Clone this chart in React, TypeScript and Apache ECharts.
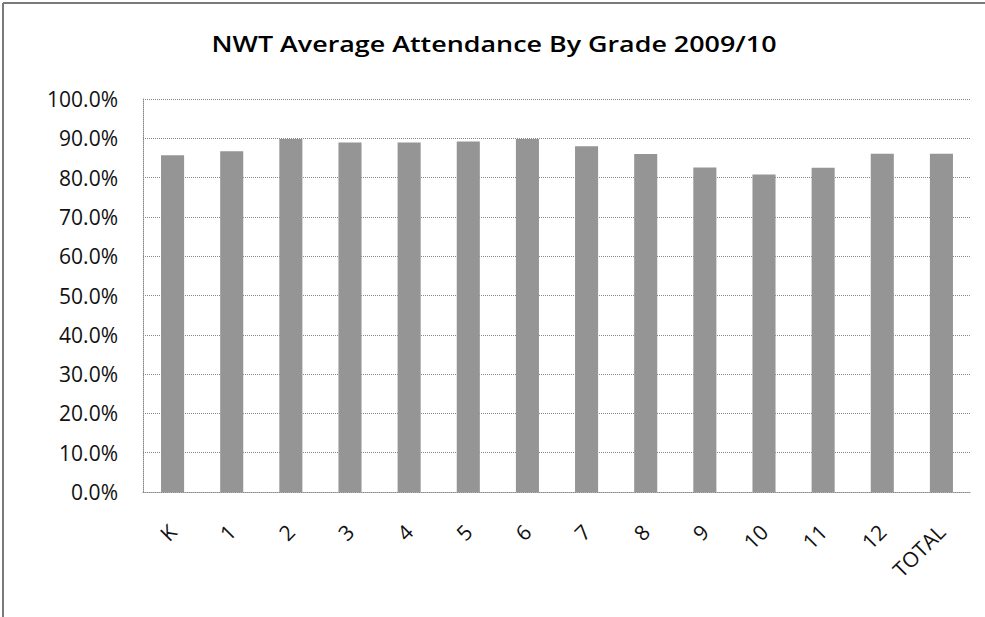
import React, { useEffect, useRef } from "react";
import * as echarts from "echarts";

const categories = ["K", "1", "2", "3", "4", "5", "6", "7", "8", "9", "10", "11", "12", "TOTAL"];
const attendance = [85.7, 86.7, 89.8, 88.9, 88.9, 89.2, 89.8, 88.0, 86.0, 82.6, 80.8, 82.5, 86.1, 86.1];
const chartTitle = "NWT Average Attendance By Grade 2009/10";

export default function App() {
  const ref = useRef<HTMLDivElement>(null);
  useEffect(() => {
    if (!ref.current) return;
    const chart = echarts.init(ref.current, null, { renderer: "svg" });
    chart.setOption({
      animation: false,
      backgroundColor: "#ffffff",
      graphic: [
        { type: "line", shape: { x1: 3, y1: 3, x2: 985, y2: 3 }, style: { stroke: "#7a7a7a", lineWidth: 2 } },
        { type: "line", shape: { x1: 3, y1: 3, x2: 3, y2: 617 }, style: { stroke: "#7a7a7a", lineWidth: 2 } },
        {
          type: "text",
          x: 494,
          y: 44,
          scaleX: 1.28,
          style: {
            text: chartTitle,
            x: 0,
            y: 0,
            textAlign: "center",
            textVerticalAlign: "middle",
            fontFamily: "Open Sans",
            fontSize: 21,
            fontWeight: 600,
            fill: "#000",
          },
        },
      ],
      grid: { left: 143, right: 14, top: 99, bottom: 125, containLabel: false },
      xAxis: {
        type: "category",
        data: categories,
        axisLine: { show: true, lineStyle: { color: "#888", type: "dotted" } },
        axisTick: { show: false },
        axisLabel: {
          rotate: 45,
          margin: 36,
          fontFamily: "Open Sans",
          fontSize: 21,
          color: "#111",
        },
      },
      yAxis: {
        type: "value",
        min: 0,
        max: 100,
        interval: 10,
        axisLine: { show: true, lineStyle: { color: "#888", type: "dotted" } },
        axisTick: { show: false },
        splitLine: { show: true, lineStyle: { color: "#888", type: "dotted" } },
        axisLabel: {
          formatter: (v: number) => v.toFixed(1) + "%",
          margin: 25,
          fontFamily: "Open Sans",
          fontSize: 21,
          color: "#111",
        },
      },
      series: [
        {
          type: "bar",
          data: attendance,
          barWidth: "39%",
          itemStyle: { color: "#959595" },
        },
      ],
    });
    return () => chart.dispose();
  }, []);
  return (
    <div
      ref={ref}
      style={{ position: "fixed", left: 0, top: 0, width: 985, height: 617 }}
    />
  );
}
